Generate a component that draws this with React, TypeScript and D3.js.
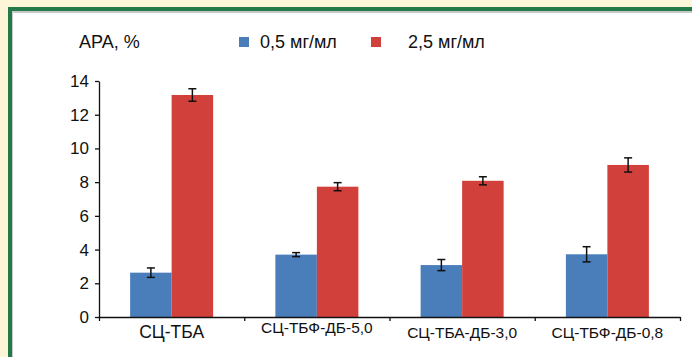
import React, { useEffect, useRef } from "react";
import * as d3 from "d3";

const categories = ["СЦ-ТБА", "СЦ-ТБФ-ДБ-5,0", "СЦ-ТБА-ДБ-3,0", "СЦ-ТБФ-ДБ-0,8"];
const seriesNames = ["0,5 мг/мл", "2,5 мг/мл"];
const lowDose = [2.63, 3.7, 3.08, 3.72];
const lowDoseErr = [0.28, 0.12, 0.33, 0.45];
const highDose = [13.17, 7.73, 8.08, 9.02];
const highDoseErr = [0.37, 0.24, 0.24, 0.42];
const yTicks = [0, 2, 4, 6, 8, 10, 12, 14];

const width = 692;
const height = 357;
const colors = ["#4a7ebb", "#d2403b"];
const font = "'Liberation Sans', Arial, sans-serif";

function App() {
  const ref = useRef<SVGSVGElement>(null);

  useEffect(() => {
    const svg = d3.select(ref.current);
    svg.selectAll("*").remove();

    // frame
    svg.append("rect").attr("width", width).attr("height", height).attr("fill", "#fdf5d8");
    svg.append("rect").attr("x", 8).attr("y", 7).attr("width", width).attr("height", height)
      .attr("fill", "#237a48");
    svg.append("rect").attr("x", 12).attr("y", 11).attr("width", width).attr("height", height)
      .attr("fill", "#c9c9c9");
    svg.append("rect").attr("x", 13).attr("y", 13).attr("width", width).attr("height", height)
      .attr("fill", "#ffffff");

    const left = 99;
    const right = 680;
    const x = d3.scaleBand<string>().domain(categories).range([left, right]).paddingInner(0).paddingOuter(0);
    const edge = d3.scaleLinear().domain([0, categories.length]).range([left, right]);
    const y = d3.scaleLinear().domain([0, 14]).range([317, 81]);

    const barW = 41.5;
    const data = categories.map((c, i) => ({
      c,
      vals: [
        { v: lowDose[i], e: lowDoseErr[i], s: 0 },
        { v: highDose[i], e: highDoseErr[i], s: 1 },
      ],
    }));

    const groups = svg.append("g").selectAll("g").data(data).join("g")
      .attr("transform", (d) => `translate(${x(d.c)! + x.bandwidth() / 2 - barW},0)`);

    groups.selectAll("rect").data((d) => d.vals).join("rect")
      .attr("x", (d) => d.s * barW)
      .attr("y", (d) => y(d.v))
      .attr("width", barW)
      .attr("height", (d) => y(0) - y(d.v))
      .attr("fill", (d) => colors[d.s]);

    const err = groups.selectAll("g.err").data((d) => d.vals).join("g").attr("class", "err")
      .attr("stroke", "#111").attr("stroke-width", 1.5);
    err.append("line")
      .attr("x1", (d) => d.s * barW + barW / 2).attr("x2", (d) => d.s * barW + barW / 2)
      .attr("y1", (d) => y(d.v + d.e)).attr("y2", (d) => y(d.v - d.e));
    [1, -1].forEach((k) => {
      err.append("line")
        .attr("x1", (d) => d.s * barW + barW / 2 - 4).attr("x2", (d) => d.s * barW + barW / 2 + 4)
        .attr("y1", (d) => y(d.v + k * d.e)).attr("y2", (d) => y(d.v + k * d.e));
    });

    // y axis
    const yAxis = svg.append("g").attr("transform", `translate(${left},0)`)
      .call(d3.axisLeft(y).tickValues(yTicks).tickSize(4).tickSizeOuter(0).tickPadding(6));
    yAxis.selectAll("text").attr("font-family", font).attr("font-size", 17).attr("fill", "#111");
    yAxis.selectAll("line,path").attr("stroke", "#111").attr("stroke-width", 1.3);

    // x axis
    const xAxis = svg.append("g").attr("transform", `translate(0,${y(0)})`)
      .call(d3.axisBottom(edge).tickValues(d3.range(categories.length + 1)).tickSize(4).tickSizeOuter(0).tickFormat(() => ""));
    xAxis.selectAll("line,path").attr("stroke", "#111").attr("stroke-width", 1.3);

    svg.append("g").selectAll("text").data(categories).join("text")
      .attr("x", (d) => x(d)! + x.bandwidth() / 2)
      .attr("y", (d, i) => (i === 1 ? 333 : 338))
      .attr("text-anchor", "middle")
      .attr("font-family", font)
      .attr("font-size", (d, i) => (i === 0 ? 17.5 : 15.5))
      .attr("fill", "#111")
      .text((d) => d);

    // title
    svg.append("text").attr("x", 79).attr("y", 48).attr("font-family", font).attr("font-size", 18)
      .attr("fill", "#111").text("АРА, %");

    // legend
    const legendX = [239, 371];
    const lg = svg.append("g").selectAll("g").data(seriesNames).join("g")
      .attr("transform", (d, i) => `translate(${legendX[i]},37)`);
    lg.append("rect").attr("width", 10).attr("height", 10).attr("fill", (d, i) => colors[i]);
    lg.append("text").attr("x", (d, i) => (i === 0 ? 21 : 37)).attr("y", 11)
      .attr("font-family", font).attr("font-size", 18).attr("fill", "#111").text((d) => d);
  }, []);

  return (
    <div style={{ position: "absolute", left: 0, top: 0 }}>
      <svg ref={ref} width={width} height={height} />
    </div>
  );
}

export default App;
